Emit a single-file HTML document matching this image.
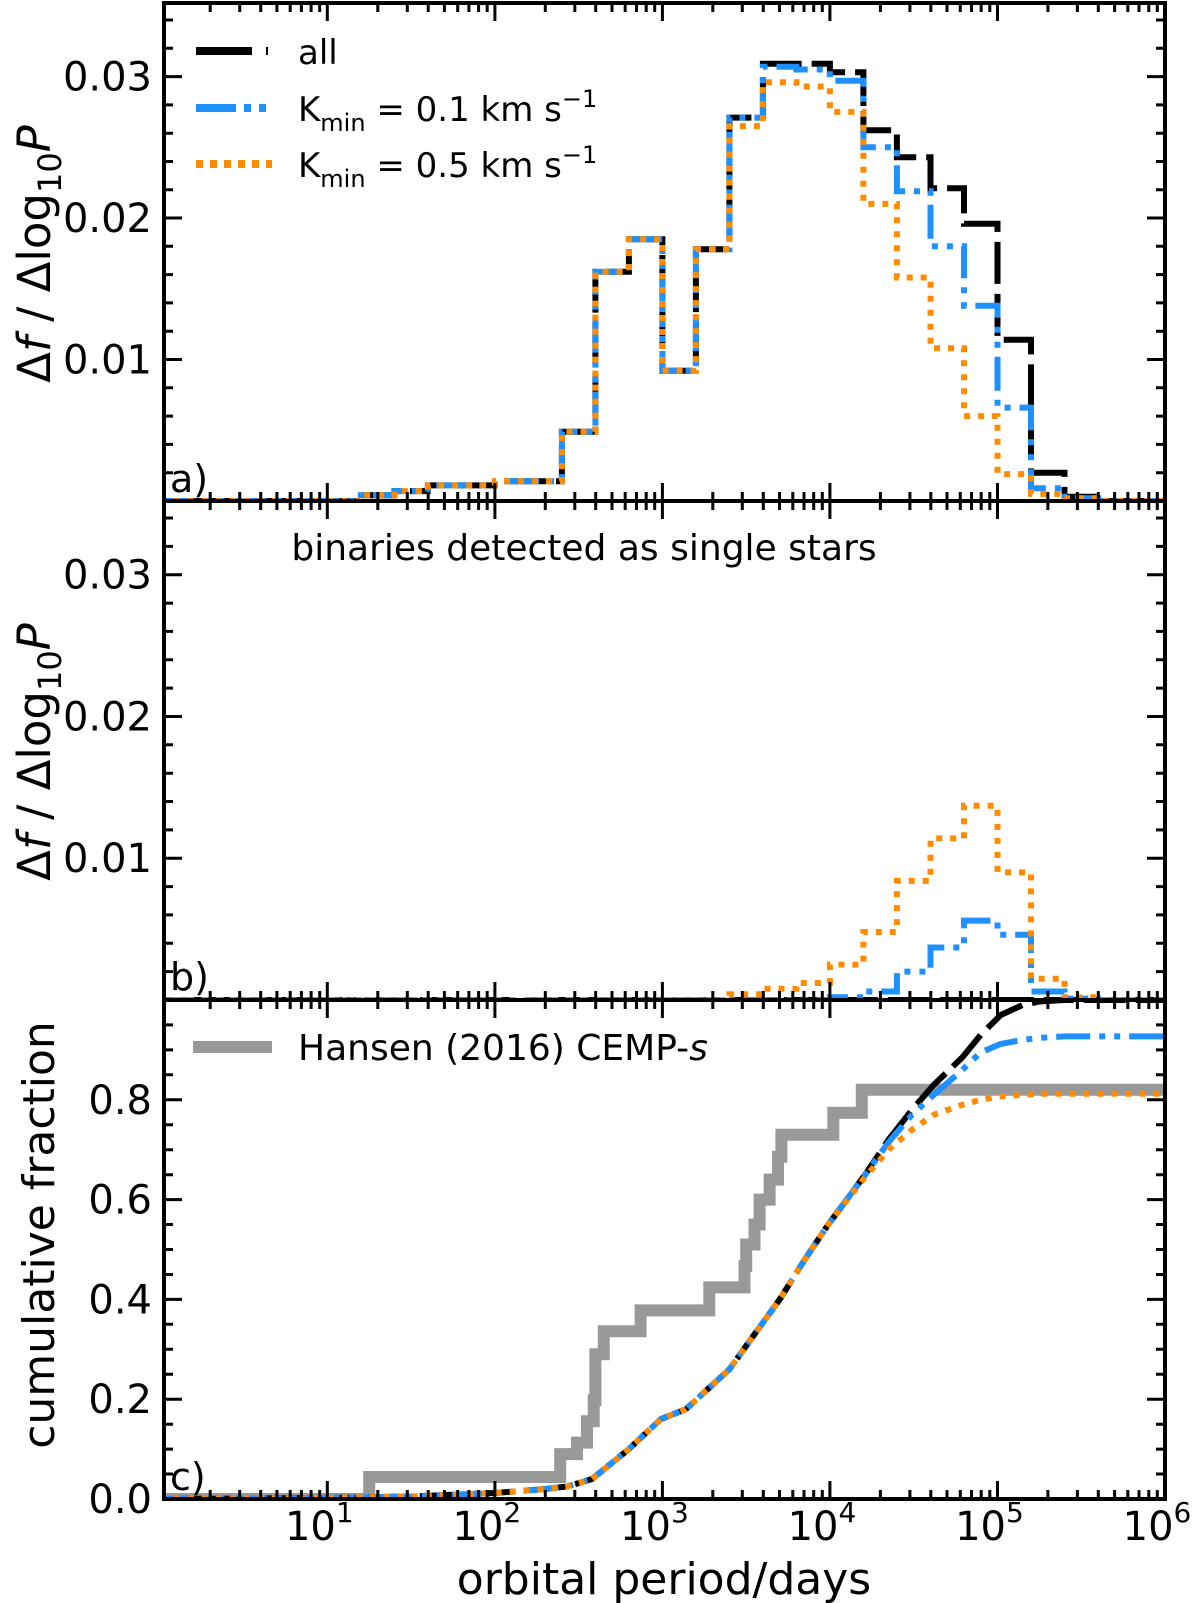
<!DOCTYPE html>
<html><head><meta charset="utf-8"><style>
html,body{margin:0;padding:0;background:#fff}
svg{display:block}
text{font-family:"DejaVu Sans","Liberation Sans",sans-serif;fill:#000}
</style></head><body>
<svg id="chart" width="1200" height="1603" viewBox="0 0 1200 1603" xmlns="http://www.w3.org/2000/svg">
<defs>
<clipPath id="clipA"><rect x="164" y="3" width="1001" height="498"/></clipPath>
<clipPath id="clipB"><rect x="164" y="501" width="1001" height="499"/></clipPath>
<clipPath id="clipC"><rect x="164" y="1000" width="1001" height="499"/></clipPath>
</defs>
<g id="marks"></g>
<g id="axes"></g>
</svg>
<script>
// ---- data ----
const binEdgesLog = [0,0.2,0.4,0.6,0.8,1.0,1.2,1.4,1.6,1.8,2.0,2.2,2.4,2.6,2.8,3.0,3.2,3.4,3.6,3.8,4.0,4.2,4.4,4.6,4.8,5.0,5.2,5.4,5.6,5.8,6.0];
const histAllA = [0,0,0,0,0,0,0.0004,0.0007,0.0011,0.0011,0.0014,0.0014,0.0049,0.0162,0.0185,0.0092,0.0178,0.0271,0.0309,0.0309,0.0303,0.0262,0.0243,0.0221,0.0196,0.0114,0.0020,0.0003,0,0];
const histK01A = [0,0,0,0,0,0,0.0004,0.0007,0.0011,0.0011,0.0014,0.0014,0.0049,0.0162,0.0185,0.0092,0.0178,0.0271,0.0307,0.0305,0.0297,0.0250,0.0219,0.0180,0.0138,0.0066,0.0009,0.0002,0,0];
const histK05A = [0,0,0,0,0,0,0.0004,0.0007,0.0011,0.0011,0.0014,0.0014,0.0049,0.0162,0.0185,0.0092,0.0178,0.0265,0.0296,0.0293,0.0275,0.0210,0.0158,0.0108,0.0060,0.0019,0.0005,0.0002,0,0];
const histAllB = [0,0,0,0,0,0,0,0,0,0,0,0,0,0,0,0,0,0,0,0,0,0,0,0,0,0,0,0,0,0];
const histK01B = [0,0,0,0,0,0,0,0,0,0,0,0,0,0,0,0,0,0,0,0,0.0002,0.0006,0.0020,0.0037,0.0056,0.0046,0.0006,0.0001,0,0];
const histK05B = [0,0,0,0,0,0,0,0,0,0,0,0,0,0,0,0,0,0.0004,0.0008,0.0012,0.0025,0.0048,0.0084,0.0114,0.0137,0.0090,0.0015,0.0002,0,0];
const cumLogP = [0,1.0,1.5,2.0,2.3,2.43,2.58,2.8,2.99,3.14,3.4,3.55,3.7,3.85,3.99,4.1,4.21,4.35,4.49,4.62,4.79,4.9,5.02,5.15,5.25,5.4,6.0];
const cumAll = [0,0.002,0.005,0.012,0.02,0.025,0.04,0.10,0.16,0.18,0.26,0.33,0.40,0.48,0.55,0.60,0.65,0.72,0.78,0.83,0.885,0.93,0.97,0.99,0.997,1.0,1.0];
const cumK01 = [0,0.002,0.005,0.012,0.02,0.025,0.04,0.10,0.16,0.18,0.26,0.33,0.40,0.48,0.55,0.60,0.65,0.715,0.77,0.81,0.86,0.895,0.912,0.92,0.924,0.927,0.927];
const cumK05 = [0,0.002,0.005,0.012,0.02,0.025,0.04,0.10,0.16,0.18,0.26,0.33,0.40,0.48,0.55,0.598,0.645,0.70,0.74,0.77,0.79,0.80,0.807,0.81,0.812,0.812,0.812];
const hansenLogP = [0,1.25,2.39,2.49,2.55,2.59,2.60,2.65,2.87,3.28,3.49,3.50,3.55,3.58,3.64,3.69,3.71,4.02,4.19,6.0];
const hansenFrac = [0,0.044,0.09,0.113,0.156,0.198,0.29,0.336,0.378,0.424,0.467,0.51,0.55,0.6,0.64,0.686,0.73,0.774,0.82,0.82];
const xTickExp = [1,2,3,4,5,6];
const yTicksHist = [0.01,0.02,0.03];
const yTicksHistLabels = ["0.01","0.02","0.03"];
const yTicksCum = [0,0.2,0.4,0.6,0.8];
const yTicksCumLabels = ["0.0","0.2","0.4","0.6","0.8"];

// ---- scales ----
const X0=164, X1=1165, LMIN=0.025, LMAX=6.0;
function xs(l){return X0+(l-LMIN)/(LMAX-LMIN)*(X1-X0);}
const panels={
 a:{top:3,bot:501,vmax:0.0352},
 b:{top:501,bot:1000,vmax:0.0352},
 c:{top:1000,bot:1499,vmax:1.0}
};
function yv(p,v){const P=panels[p];const h=(p==='a')?498:499;return P.bot-(v/P.vmax)*h;}

const NS="http://www.w3.org/2000/svg";
const marks=document.getElementById('marks');
const axes=document.getElementById('axes');
function mk(tag,attrs,parent){const e=document.createElementNS(NS,tag);for(const k in attrs)e.setAttribute(k,attrs[k]);(parent||marks).appendChild(e);return e;}

function stepPath(p,vals){
  let d='M'+xs(binEdgesLog[0]).toFixed(1)+','+yv(p,vals[0]).toFixed(1);
  for(let i=0;i<vals.length;i++){
    if(i>0)d+=' L'+xs(binEdgesLog[i]).toFixed(1)+','+yv(p,vals[i]).toFixed(1);
    d+=' L'+xs(binEdgesLog[i+1]).toFixed(1)+','+yv(p,vals[i]).toFixed(1);
  }
  return d;
}
function linePath(p,xsArr,vals){
  return xsArr.map((l,i)=>(i?'L':'M')+xs(l).toFixed(1)+','+yv(p,vals[i]).toFixed(1)).join(' ');
}
function hvPath(p,xsArr,vals){
  let d='M'+xs(xsArr[0]).toFixed(1)+','+yv(p,vals[0]).toFixed(1);
  for(let i=1;i<xsArr.length;i++){
    d+=' L'+xs(xsArr[i]).toFixed(1)+','+yv(p,vals[i-1]).toFixed(1);
    d+=' L'+xs(xsArr[i]).toFixed(1)+','+yv(p,vals[i]).toFixed(1);
  }
  return d;
}
const styleAll={stroke:'#000','stroke-width':6,fill:'none','stroke-dasharray':'42,10'};
const styleK01={stroke:'#1e90ff','stroke-width':6,fill:'none','stroke-dasharray':'34,9,6,9,6,9'};
const styleK05={stroke:'#ff8c00','stroke-width':6,fill:'none','stroke-dasharray':'6,8'};
function draw(d,style,clip,name){
  const e=mk('path',Object.assign({d:d,'clip-path':'url(#'+clip+')'},style));
  
  
}
draw(stepPath('a',histAllA),styleAll,'clipA','hist-all-a');
draw(stepPath('a',histK01A),styleK01,'clipA','hist-kmin01-a');
draw(stepPath('a',histK05A),styleK05,'clipA','hist-kmin05-a');
draw(stepPath('b',histAllB),styleAll,'clipB','hist-all-b');
draw(stepPath('b',histK01B),styleK01,'clipB','hist-kmin01-b');
draw(stepPath('b',histK05B),styleK05,'clipB','hist-kmin05-b');
(function(){const e=mk('path',{d:hvPath('c',hansenLogP,hansenFrac),stroke:'#999','stroke-width':12,fill:'none','clip-path':'url(#clipC)'});

})();
draw(linePath('c',cumLogP,cumAll),styleAll,'clipC','cumulative-all');
draw(linePath('c',cumLogP,cumK01),styleK01,'clipC','cumulative-kmin01');
draw(linePath('c',cumLogP,cumK05),styleK05,'clipC','cumulative-kmin05');

// ---- axes ----
function txt(x,y,s,attrs,name){const e=mk('text',Object.assign({x:x,y:y},attrs||{}),axes);e.innerHTML=s;

return e;}
['a','b','c'].forEach(p=>{
  const P=panels[p];
  const top=P.top;
  const fr=mk('rect',{x:X0,y:top,width:X1-X0,height:P.bot-top,fill:'none',stroke:'#000','stroke-width':4},axes);
  
  
  let d='';
  for(let dec=0;dec<6;dec++){
    for(let m=1;m<10;m++){
      const l=dec+Math.log10(m); if(l<LMIN)continue;
      const x=xs(l).toFixed(1); const len=(m===1)?18:9;
      d+=`M${x},${P.bot}v${-len}M${x},${top}v${len}`;
    }
  }
  const x6=xs(6).toFixed(1); d+=`M${x6},${P.bot}v-18M${x6},${top}v18`;
  const minorStep=(p==='c')?0.05:0.002, majorStep=(p==='c')?0.2:0.01;
  for(let v=minorStep;v<P.vmax-1e-9;v+=minorStep){
    const y=yv(p,v); if(y<top+2)continue;
    const isMaj=Math.abs(v/majorStep-Math.round(v/majorStep))<1e-6;
    const len=isMaj?18:9;
    d+=`M${X0},${y.toFixed(1)}h${len}M${X1},${y.toFixed(1)}h${-len}`;
  }
  const tk=mk('path',{d:d,stroke:'#000','stroke-width':3,fill:'none'},axes);
  
  
  const vals=(p==='c')?yTicksCum:yTicksHist, labs=(p==='c')?yTicksCumLabels:yTicksHistLabels;
  vals.forEach((v,i)=>txt(152,yv(p,v)+14,labs[i],{'text-anchor':'end','font-size':40},'y-tick-label-'+p));
});
xTickExp.forEach(e=>{
  const x=xs(e);
  txt(x-8,1540,`10<tspan dy="-18" font-size="28">${e}</tspan>`,{'text-anchor':'middle','font-size':40},'x-tick-label');
});
txt(664,1594,'orbital period/days',{'text-anchor':'middle','font-size':44},'x-axis-title');
txt(0,0,'Δ<tspan font-style="italic">f</tspan> / Δlog<tspan dy="11" font-size="32">10</tspan><tspan dy="-11" font-style="italic">P</tspan>',{'text-anchor':'middle','font-size':45,transform:'translate(50,254) rotate(-90)'},'y-axis-title-a');
txt(0,0,'Δ<tspan font-style="italic">f</tspan> / Δlog<tspan dy="11" font-size="32">10</tspan><tspan dy="-11" font-style="italic">P</tspan>',{'text-anchor':'middle','font-size':45,transform:'translate(50,752) rotate(-90)'},'y-axis-title-b');
txt(0,0,'cumulative fraction',{'text-anchor':'middle','font-size':44,transform:'translate(54,1235) rotate(-90)'},'y-axis-title-c');
txt(170,492,'a)',{'font-size':38},'panel-label-a');
txt(170,990,'b)',{'font-size':38},'panel-label-b');
txt(170,1490,'c)',{'font-size':38},'panel-label-c');
txt(584,560,'binaries detected as single stars',{'text-anchor':'middle','font-size':36},'panel-b-title');
function legLine(y,style,name){const e=mk('path',Object.assign({d:`M196,${y}H272`},style),axes);

}
legLine(51,{stroke:'#000','stroke-width':8,fill:'none','stroke-dasharray':'56,14,2,20'},'legend-line-all');
legLine(108,{stroke:'#1e90ff','stroke-width':8,fill:'none','stroke-dasharray':'40,8,7,8,7,8'},'legend-line-kmin01');
legLine(164,{stroke:'#ff8c00','stroke-width':8,fill:'none','stroke-dasharray':'7,7'},'legend-line-kmin05');
txt(298,64,'all',{'font-size':34},'legend-label-all');
txt(298,121,'K<tspan dy="10" font-size="24">min</tspan><tspan dy="-10"> = 0.1 km s</tspan><tspan dy="-14" font-size="24">−1</tspan>',{'font-size':34},'legend-label-kmin01');
txt(298,177,'K<tspan dy="10" font-size="24">min</tspan><tspan dy="-10"> = 0.5 km s</tspan><tspan dy="-14" font-size="24">−1</tspan>',{'font-size':34},'legend-label-kmin05');
(function(){const e=mk('path',{d:'M193,1047H272',stroke:'#999','stroke-width':12,fill:'none'},axes);

})();
txt(298,1060,'Hansen (2016) CEMP-<tspan font-style="italic">s</tspan>',{'font-size':36},'legend-label-hansen');
</script>
</body></html>
